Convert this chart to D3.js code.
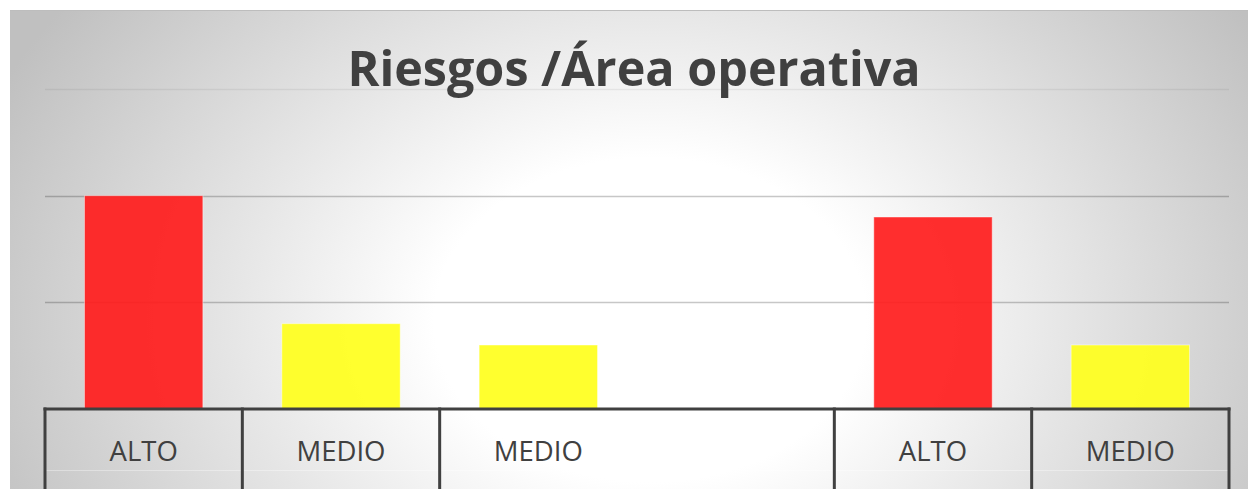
<!DOCTYPE html>
<html><head><meta charset="utf-8">
<script src="https://cdn.jsdelivr.net/npm/d3@7"></script>
<style>html,body{margin:0;padding:0;background:#fff;overflow:hidden}</style>
</head><body>
<svg id="c" width="1248" height="489"></svg>
<script>
const title = "Riesgos /Área operativa";
const categories = ["c1","c2","c3","c4","c5","c6"];
const labels = ["ALTO","MEDIO","MEDIO","","ALTO","MEDIO"];
const values = [10, 4, 3, null, 9, 3];
const colors = ["#ff1c1c","#ffff1c","#ffff1c",null,"#ff1c1c","#ffff1c"];
const yTicks = [5, 10, 15];
const yMax = 15;

(function(){
const svg = d3.select("#c");
const W = 1248, H = 489;
const defs = svg.append("defs");
const rg = defs.append("radialGradient").attr("id","bg")
  .attr("gradientUnits","userSpaceOnUse")
  .attr("cx",650).attr("cy",320).attr("r",720)
  .attr("gradientTransform","translate(650,320) scale(1,0.75) translate(-650,-320)");
rg.append("stop").attr("offset","0").attr("stop-color","#ffffff");
rg.append("stop").attr("offset","0.3").attr("stop-color","#ffffff");
rg.append("stop").attr("offset","1").attr("stop-color","#c0c0c0");

svg.append("rect").attr("x",10).attr("y",10).attr("width",W-10).attr("height",H-10).attr("fill","url(#bg)");
svg.append("line").attr("x1",10).attr("x2",W).attr("y1",10.5).attr("y2",10.5).attr("stroke","#bdbdbd").attr("stroke-width",1);

const pLeft = 45, pRight = 1229, pTop = 89, pBottom = 409;
const x = d3.scaleBand().domain(categories).range([pLeft,pRight]).paddingInner(0.4).paddingOuter(0.2);
const xb = d3.scaleBand().domain(categories).range([pLeft,pRight]);
const y = d3.scaleLinear().domain([0,yMax]).range([pBottom,pTop]);

svg.append("g").selectAll("line").data(yTicks).join("line")
  .attr("x1",pLeft).attr("x2",pRight)
  .attr("y1",d=>Math.round(y(d))+0.5).attr("y2",d=>Math.round(y(d))+0.5)
  .attr("stroke","#000").attr("stroke-opacity",d=>d===yMax?0.06:0.22).attr("stroke-width",1.5);

const data = categories.map((c,i)=>({c, v:values[i], col:colors[i]})).filter(d=>d.v!=null);
svg.append("g").selectAll("rect").data(data).join("rect")
  .attr("x",d=>x(d.c)).attr("width",x.bandwidth())
  .attr("y",d=>y(d.v)).attr("height",d=>y(0)-y(d.v))
  .attr("fill",d=>d.col).attr("fill-opacity",0.92)
  .attr("stroke","#ffffff").attr("stroke-opacity",0.45).attr("stroke-width",1);

svg.append("line").attr("x1",pLeft).attr("x2",pRight).attr("y1",470.5).attr("y2",470.5)
  .attr("stroke","#ffffff").attr("stroke-opacity",0.35).attr("stroke-width",1);

svg.append("line").attr("x1",pLeft-1.5).attr("x2",pRight+1.5).attr("y1",pBottom).attr("y2",pBottom)
  .attr("stroke","#404040").attr("stroke-width",3);

const sep = [];
categories.forEach((c,i)=>{ if(labels[i]!=="") sep.push(xb(c)); });
sep.push(pRight);
svg.append("g").selectAll("line").data(sep).join("line")
  .attr("x1",d=>d).attr("x2",d=>d).attr("y1",pBottom-1.5).attr("y2",H)
  .attr("stroke","#404040").attr("stroke-width",3);

svg.append("g").selectAll("text").data(categories).join("text")
  .attr("x",d=>xb(d)+xb.bandwidth()/2).attr("y",461)
  .attr("text-anchor","middle")
  .attr("font-family","'Open Sans', sans-serif").attr("font-size",27.5)
  .attr("fill","#404040")
  .text((d,i)=>labels[i]);

svg.append("text").attr("x",634).attr("y",86).attr("text-anchor","middle")
  .attr("font-family","'Open Sans', sans-serif").attr("font-weight","bold").attr("font-size",48.5)
  .attr("fill","#404040").text(title);
})();
</script>
</body></html>
